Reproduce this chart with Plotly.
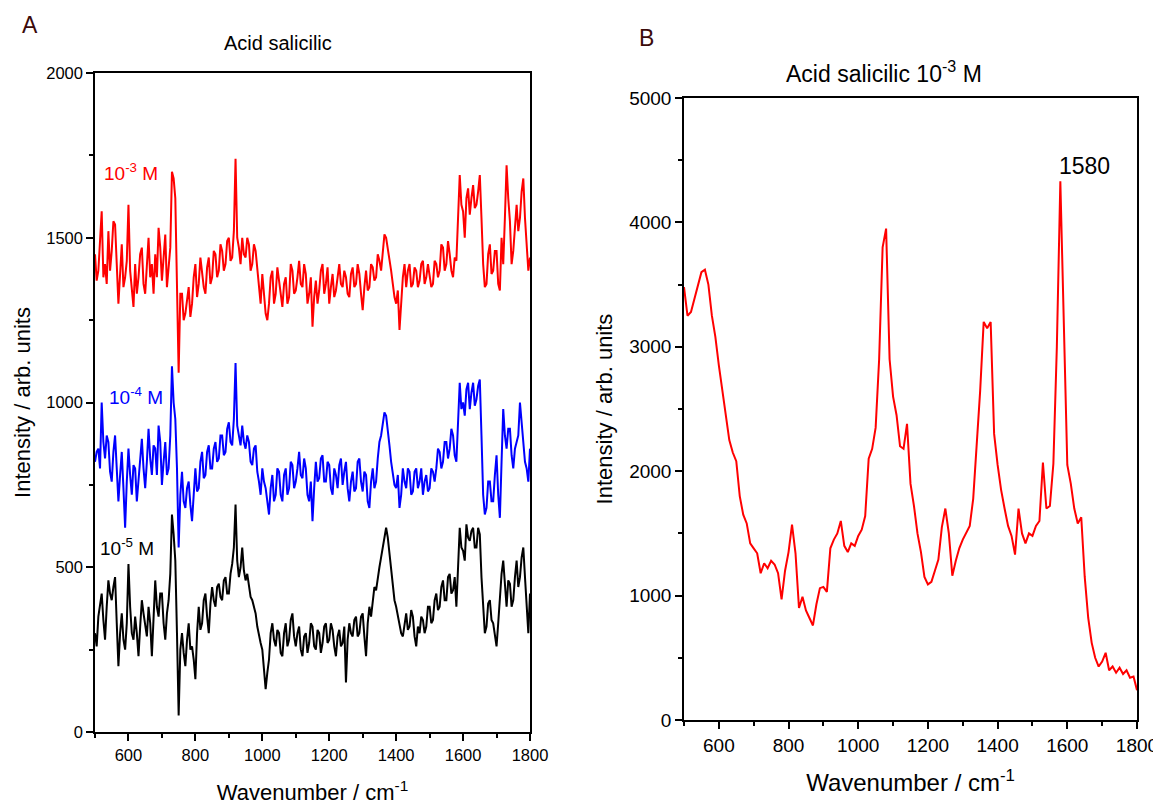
import plotly.graph_objects as go

# Wavenumber grids (cm-1)
wavenumber_a = list(range(500, 1801, 5))
wavenumber_b = list(range(500, 1801, 10))

# Panel A: salicylic acid at three concentrations (arb. units, offset stacked)
int_1e3 = [
    1450, 1370, 1400, 1500, 1580, 1380, 1420, 1360, 1520, 1400,
    1460, 1550, 1540, 1420, 1300, 1390, 1480, 1350, 1380, 1430,
    1600, 1400, 1350, 1290, 1420, 1330, 1380, 1450, 1470, 1360,
    1330, 1420, 1500, 1380, 1420, 1330, 1450, 1380, 1530, 1470,
    1370, 1440, 1510, 1350, 1400, 1470, 1700, 1680, 1620, 1400,
    1090, 1330, 1330, 1250, 1270, 1310, 1350, 1260, 1300, 1380,
    1420, 1320, 1360, 1440, 1400, 1350, 1330, 1410, 1440, 1360,
    1380, 1460, 1450, 1380, 1400, 1480, 1460, 1400, 1420, 1490,
    1500, 1430, 1440, 1520, 1740, 1500, 1470, 1420, 1500, 1450,
    1440, 1500, 1480, 1400, 1420, 1480, 1460, 1400, 1360, 1300,
    1390, 1330, 1270, 1250, 1300, 1380, 1400, 1300, 1330, 1410,
    1370, 1320, 1290, 1360, 1380, 1300, 1320, 1420, 1400, 1330,
    1340, 1380, 1430, 1360, 1350, 1420, 1390, 1300, 1330, 1380,
    1230, 1320, 1370, 1300, 1340, 1400, 1420, 1330, 1360, 1410,
    1300, 1350, 1390, 1320, 1340, 1380, 1420, 1360, 1350, 1400,
    1380, 1330, 1320, 1390, 1410, 1350, 1360, 1420, 1390, 1330,
    1280, 1350, 1400, 1340, 1350, 1420, 1410, 1370, 1380, 1450,
    1430, 1400, 1460, 1510, 1500, 1470, 1440, 1400, 1360, 1320,
    1300, 1340, 1220, 1300, 1380, 1420, 1350, 1400, 1420, 1350,
    1360, 1410, 1400, 1350, 1370, 1420, 1430, 1360, 1380, 1420,
    1390, 1350, 1360, 1430, 1420, 1380, 1400, 1480, 1470, 1400,
    1420, 1490, 1450, 1400, 1380, 1440, 1430, 1550, 1690, 1600,
    1580, 1500, 1620, 1650, 1570, 1620, 1660, 1590, 1600, 1640,
    1690, 1560, 1420, 1350, 1360, 1450, 1480, 1390, 1400, 1460,
    1460, 1360, 1340, 1500, 1420, 1560, 1720, 1620, 1550, 1420,
    1460, 1530, 1600, 1520, 1560, 1640, 1680, 1560, 1480, 1400,
    1440,
]
int_1e4 = [
    820, 850, 860, 800, 1000, 880, 830, 900, 880, 790,
    760, 850, 900, 800, 700, 780, 850, 740, 620, 760,
    860, 780, 720, 810, 800, 700, 760, 840, 890, 800,
    740, 820, 920, 830, 780, 870, 860, 780, 930, 880,
    750, 820, 880, 780, 800, 900, 1110, 1000, 950, 800,
    560, 720, 790, 700, 680, 740, 760, 690, 640, 720,
    800, 730, 740, 820, 850, 770, 780, 850, 870, 800,
    800, 860, 880, 820, 830, 900, 900, 840, 850, 920,
    940, 880, 870, 950, 1120, 930, 900, 870, 930, 880,
    860, 900, 880, 820, 810, 860, 870, 790, 760, 720,
    800, 760, 740, 700, 660, 740, 780, 700, 720, 800,
    790, 720, 700, 780, 800, 720, 740, 820, 810, 740,
    760, 800, 850, 780, 770, 830, 800, 720, 700, 760,
    640, 740, 820, 760, 770, 830, 840, 760, 760, 820,
    810, 740, 720, 800, 780, 740, 810, 830, 750, 790,
    820, 740, 700, 760, 790, 730, 740, 820, 830, 760,
    730, 790, 780, 700, 680, 760, 800, 740, 760, 830,
    880, 900, 940, 970, 960, 920, 870, 820, 790, 750,
    740, 780, 680, 720, 800, 760, 740, 800, 790, 720,
    730, 790, 800, 740, 760, 800, 720, 760, 780, 730,
    740, 800, 790, 760, 800, 860, 850, 800, 820, 880,
    880, 830, 860, 920, 900, 840, 820, 950, 1060, 980,
    1000, 960, 1040, 1060, 980, 1030, 1060, 990, 1010, 1050,
    1070, 900, 720, 660, 680, 760, 760, 700, 700, 780,
    840, 720, 650, 820, 980, 900, 860, 920, 920, 840,
    800, 860, 880, 900, 1000, 940, 900, 820, 800, 760,
    860,
]
int_1e5 = [
    300, 260, 350, 380, 420, 340, 280, 380, 460, 420,
    400, 440, 470, 330, 200, 300, 360, 280, 250, 330,
    510, 380, 300, 280, 350, 300, 230, 320, 400, 360,
    320, 290, 380, 330, 230, 350, 460, 380, 350, 420,
    420, 330, 280, 360, 400, 480, 660, 600, 520, 300,
    50, 250, 300, 240, 200, 280, 330, 250, 260, 220,
    160, 300, 380, 310, 330, 400, 420, 350, 300, 390,
    440, 400, 380, 440, 450, 410, 400, 460, 470, 420,
    420, 480, 510, 560, 690, 520, 470, 500, 560, 490,
    460, 480, 440, 410, 400, 380, 360, 320, 290, 270,
    250, 200, 130, 180, 220, 300, 330, 280, 260, 310,
    300, 240, 230, 300, 330, 260, 280, 340, 360, 290,
    260, 300, 320, 250, 230, 290, 300, 240, 270, 330,
    320, 260, 250, 310, 300, 240, 270, 320, 330, 270,
    280, 330, 310, 260, 230, 290, 310, 260, 270, 320,
    150, 280, 330, 300, 290, 340, 350, 290, 300, 350,
    360, 290, 230, 330, 380, 350, 400, 440, 430, 470,
    500, 530, 560, 600, 620, 590, 540, 480, 430, 400,
    380, 350, 330, 300, 290, 330, 360, 310, 320, 370,
    350, 290, 260, 320, 300, 350, 340, 300, 320, 380,
    380, 330, 340, 400, 420, 370, 380, 440, 460, 400,
    400, 470, 480, 420, 430, 470, 380, 500, 620, 560,
    550, 520, 630, 590, 580, 610, 620, 560, 560, 620,
    600, 470, 380, 300, 320, 390, 400, 340, 330, 290,
    260, 330, 410, 480, 520, 440, 380, 460, 450, 380,
    400, 470, 520, 440, 470, 530, 560, 470, 400, 300,
    420,
]

# Panel B: 10^-3 M spectrum
int_b = [
    3480, 3250, 3280, 3380, 3480, 3600, 3620, 3500, 3250, 3080,
    2850, 2650, 2420, 2250, 2150, 2080, 1800, 1650, 1580, 1420,
    1380, 1340, 1180, 1260, 1220, 1280, 1250, 1180, 970, 1200,
    1350, 1570, 1340, 900, 990, 880, 820, 760, 930, 1060,
    1070, 1030, 1380, 1450, 1500, 1600, 1400, 1350, 1420, 1400,
    1480, 1530, 1640, 2100, 2180, 2350, 2900, 3800, 3950, 2900,
    2600, 2450, 2200, 2180, 2380, 1900, 1720, 1500, 1350, 1150,
    1090, 1110, 1200, 1290, 1550, 1700, 1500, 1160, 1280, 1380,
    1450, 1500, 1560, 1780, 2200, 2650, 3200, 3150, 3200, 2300,
    2050, 1850, 1700, 1560, 1480, 1330, 1700, 1500, 1420, 1500,
    1480, 1560, 1600, 2070, 1700, 1720, 2060, 3000, 4330, 3200,
    2050, 1900, 1700, 1580, 1630, 1150, 820, 620, 500, 430,
    470, 540, 400, 430, 380, 420, 370, 400, 340, 350,
    240,
]

for arr in (int_1e3, int_1e4, int_1e5):
    assert len(arr) == len(wavenumber_a)
assert len(int_b) == len(wavenumber_b)

series_a = [
    ("10<sup>-3</sup> M", int_1e3, "#ff0000"),
    ("10<sup>-4</sup> M", int_1e4, "#0000ff"),
    ("10<sup>-5</sup> M", int_1e5, "#000000"),
]
FONT = "Liberation Sans, Arial, sans-serif"
W, H = 1161, 805
OFF = 8  # page body margin shifts the figure


def px_x(p):
    return (p - OFF) / W


def px_y(p):
    return 1 - (p - OFF) / H


fig = go.Figure()

for name, values, color in series_a:
    fig.add_trace(
        go.Scatter(
            x=wavenumber_a, y=values, mode="lines", name=name,
            line=dict(color=color, width=2), xaxis="x", yaxis="y",
        )
    )

fig.add_trace(
    go.Scatter(
        x=wavenumber_b, y=int_b, mode="lines", name="10<sup>-3</sup> M",
        line=dict(color="#ff0000", width=2), xaxis="x2", yaxis="y2",
    )
)


def axis_style(tick_size, title_size, minor_dtick, **kw):
    return dict(
        showline=True, linecolor="black", linewidth=1.5, mirror=True,
        ticks="outside", ticklen=7, tickwidth=1.5, tickcolor="black",
        minor=dict(ticks="outside", ticklen=4, tickwidth=1.5,
                   tickcolor="black", dtick=minor_dtick),
        showgrid=False, zeroline=False, automargin=False,
        tickfont=dict(family=FONT, size=tick_size, color="black"),
        title_font=dict(family=FONT, size=title_size, color="black"),
        **kw,
    )


fig.update_layout(
    width=W, height=H,
    margin=dict(l=0, r=0, t=0, b=0),
    paper_bgcolor="white", plot_bgcolor="white",
    showlegend=False,
    xaxis=axis_style(
        16.5, 22, 100, domain=[px_x(95), px_x(530)], range=[500, 1800],
        tickvals=list(range(600, 1801, 200)), anchor="y",
        title=dict(text="Wavenumber / cm<sup>-1</sup>", standoff=22),
    ),
    yaxis=axis_style(
        16.5, 22, 250, domain=[px_y(732), px_y(73)], range=[0, 2000],
        dtick=500, anchor="x",
        title=dict(text="Intensity / arb. units", standoff=10),
    ),
    xaxis2=axis_style(
        19, 24, 100, domain=[px_x(684), px_x(1137)], range=[500, 1800],
        tickvals=list(range(600, 1801, 200)), anchor="y2",
        title=dict(text="Wavenumber / cm<sup>-1</sup>", standoff=20),
    ),
    yaxis2=axis_style(
        19, 22, 500, domain=[px_y(720), px_y(98)], range=[0, 5000],
        dtick=1000, anchor="x2",
        title=dict(text="Intensity / arb. units", standoff=10),
    ),
)

annotations = [
    dict(text="A", x=px_x(20), y=px_y(25), xref="paper", yref="paper",
         xanchor="left", yanchor="middle", showarrow=False,
         font=dict(family=FONT, size=23, color="#3b0a0a")),
    dict(text="B", x=px_x(637), y=px_y(38), xref="paper", yref="paper",
         xanchor="left", yanchor="middle", showarrow=False,
         font=dict(family=FONT, size=23, color="#3b0a0a")),
    dict(text="Acid salicilic", x=px_x(278), y=px_y(43),
         xref="paper", yref="paper", xanchor="center", yanchor="middle",
         showarrow=False, font=dict(family=FONT, size=20, color="black")),
    dict(text="Acid salicilic 10<sup>-3</sup> M", x=px_x(884), y=px_y(72),
         xref="paper", yref="paper", xanchor="center", yanchor="middle",
         showarrow=False, font=dict(family=FONT, size=23, color="black")),
    dict(text="1580", x=1580, y=4330, xref="x2", yref="y2",
         xanchor="left", yanchor="bottom", showarrow=False, xshift=-3,
         font=dict(family=FONT, size=23, color="black")),
]

# concentration labels next to each stacked trace
label_pos = [(520, 1700), (535, 1020), (510, 560)]
for (name, _, color), (lx, ly) in zip(series_a, label_pos):
    annotations.append(
        dict(text=name, x=lx, y=ly, xref="x", yref="y", xanchor="left",
             yanchor="middle", showarrow=False,
             font=dict(family=FONT, size=19, color=color))
    )

fig.update_layout(annotations=annotations)

fig.write_html("out.html")
